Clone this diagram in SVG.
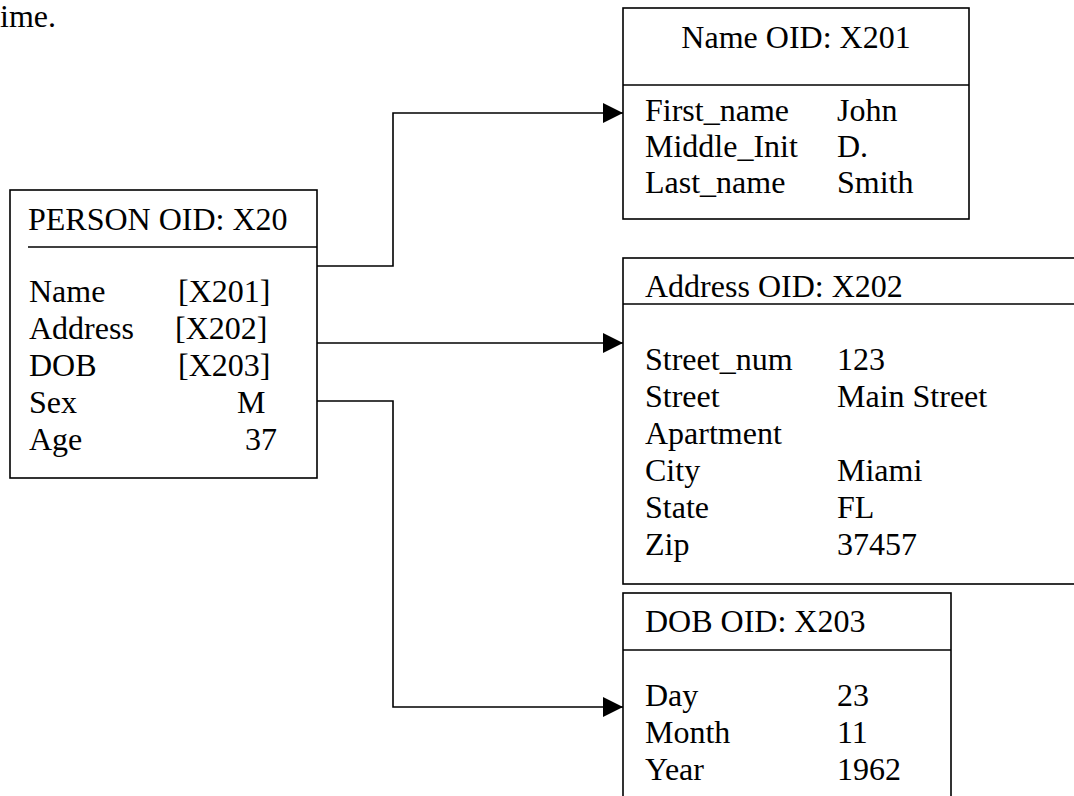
<svg xmlns="http://www.w3.org/2000/svg" width="1074" height="796" viewBox="0 0 1074 796">
<style>
text{font-family:"Liberation Serif","Times New Roman",serif;font-size:32px;fill:#000}
.box{fill:#fff;stroke:#000;stroke-width:1.6}
.sep{stroke:#000;stroke-width:1.6}
.conn{fill:none;stroke:#000;stroke-width:1.6}
</style>
<defs>
<marker id="arr" markerWidth="20" markerHeight="20" refX="20" refY="10" orient="auto" markerUnits="userSpaceOnUse" viewBox="0 0 20 20">
<path d="M0,0 L20,10 L0,20 Z" fill="#000"/>
</marker>
</defs>
<rect width="1074" height="796" fill="#fff"/>
<text x="0" y="27">ime.</text>
<g id="person">
<rect class="box" x="10" y="190" width="307" height="288"/>
<line class="sep" x1="28" y1="247" x2="317" y2="247"/>
<text x="28" y="230">PERSON OID: X20</text>
<text x="29" y="302">Name</text><text x="178" y="302">[X201]</text>
<text x="29" y="339">Address</text><text x="175" y="339">[X202]</text>
<text x="29" y="376">DOB</text><text x="178" y="376">[X203]</text>
<text x="29" y="413">Sex</text><text x="237" y="413">M</text>
<text x="29" y="450">Age</text><text x="245" y="450">37</text>
</g>
<g id="name">
<rect class="box" x="623" y="8" width="346" height="211"/>
<line class="sep" x1="623" y1="85" x2="969" y2="85"/>
<text x="796" y="48" text-anchor="middle">Name OID: X201</text>
<text x="645" y="121">First_name</text><text x="837" y="121">John</text>
<text x="645" y="157">Middle_Init</text><text x="837" y="157">D.</text>
<text x="645" y="193">Last_name</text><text x="837" y="193">Smith</text>
</g>
<g id="address">
<rect class="box" x="623" y="258" width="470" height="326"/>
<line class="sep" x1="623" y1="304" x2="1080" y2="304"/>
<text x="645" y="297">Address OID: X202</text>
<text x="645" y="370">Street_num</text><text x="837" y="370">123</text>
<text x="645" y="407">Street</text><text x="837" y="407">Main Street</text>
<text x="645" y="444">Apartment</text>
<text x="645" y="481">City</text><text x="837" y="481">Miami</text>
<text x="645" y="518">State</text><text x="837" y="518">FL</text>
<text x="645" y="555">Zip</text><text x="837" y="555">37457</text>
</g>
<g id="dob">
<rect class="box" x="623" y="593" width="328" height="220"/>
<line class="sep" x1="623" y1="650" x2="951" y2="650"/>
<text x="645" y="632">DOB OID: X203</text>
<text x="645" y="706">Day</text><text x="837" y="706">23</text>
<text x="645" y="743">Month</text><text x="837" y="743">11</text>
<text x="645" y="780">Year</text><text x="837" y="780">1962</text>
</g>
<g id="connectors">
<path class="conn" d="M317,266 H393 V113 H623" marker-end="url(#arr)"/>
<path class="conn" d="M317,343 H623" marker-end="url(#arr)"/>
<path class="conn" d="M317,401 H393 V707 H623" marker-end="url(#arr)"/>
</g>
</svg>
